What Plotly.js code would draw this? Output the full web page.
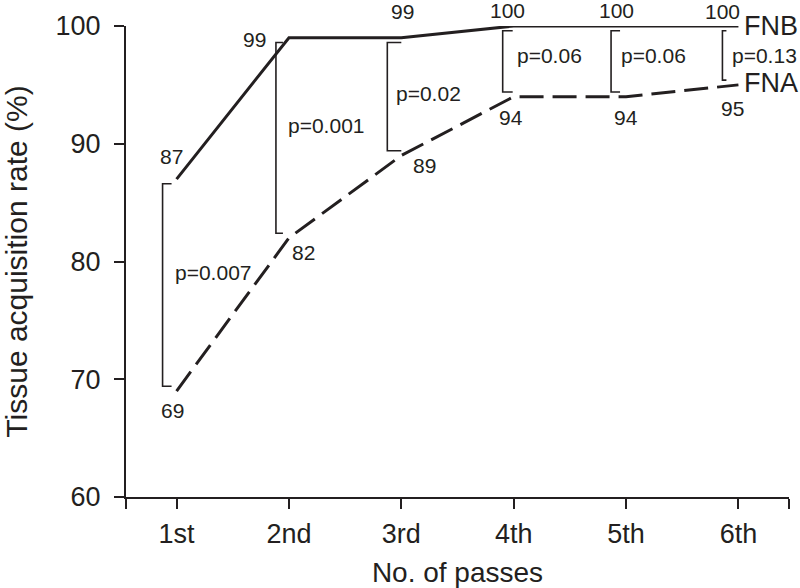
<!DOCTYPE html>
<html>
<head>
<meta charset="utf-8">
<script src="https://cdn.plot.ly/plotly-3.0.1.min.js"></script>
<style>html,body{margin:0;padding:0;background:#fff;}#chart{width:800px;height:588px;}</style>
</head>
<body>
<div id="chart"></div>
<script>
// ---- data ----
const passes = ['1st', '2nd', '3rd', '4th', '5th', '6th'];
const fnb = [87, 99, 99, 100, 100, 100];
const fna = [69, 82, 89, 94, 94, 95];
const pValues = ['p=0.007', 'p=0.001', 'p=0.02', 'p=0.06', 'p=0.06', 'p=0.13'];
const yTicks = [60, 70, 80, 90, 100];

// ---- styling / label placement (pixels) ----
const ink = '#231f20';
const font = 'Liberation Sans, Arial, Helvetica, sans-serif';
const fnbLabelShift = [[-5, 23], [-34, -2], [1, 26], [-6, 16], [-10, 16], [-16, 15]];
const fnaLabelShift = [[-4, -19], [15, -15], [23, -10], [-3, -21], [0, -21], [-6, -24]];
const pLabelShift = [[-4, 13], [-3, 12], [-7, 3], [1, 6], [-7, 6], [-8, 0]];
const bracketOffsetPx = [14, 13, 14, 11, 15, 16];
const bracketTickPx = [9, 7, 14, 10, 9, 4];

const xs = passes.map((_, i) => i + 1);
const xRange = [0.55, 6.45];
const pxPerX = (800 - 126 - 11) / (xRange[1] - xRange[0]);

const traces = [
  {x: xs, y: fnb, type: 'scatter', mode: 'lines', name: 'FNB',
   line: {color: ink, width: 3}, cliponaxis: false, hoverinfo: 'skip'},
  {x: xs, y: fna, type: 'scatter', mode: 'lines', name: 'FNA',
   line: {color: ink, width: 3, dash: '24px,9px'}, cliponaxis: false, hoverinfo: 'skip'}
];

const shapes = xs.map((x, i) => {
  const bx = x - bracketOffsetPx[i] / pxPerX;
  const tx = bx + bracketTickPx[i] / pxPerX;
  const top = fnb[i] - 0.4;
  const bot = fna[i] + 0.4;
  return {type: 'path', xref: 'x', yref: 'y',
    path: `M ${tx},${top} L ${bx},${top} L ${bx},${bot} L ${tx},${bot}`,
    line: {color: ink, width: 1.6}};
});

const annotations = [];
xs.forEach((x, i) => {
  annotations.push({x: x, y: fnb[i], xref: 'x', yref: 'y', text: String(fnb[i]), showarrow: false,
    xshift: fnbLabelShift[i][0], yshift: fnbLabelShift[i][1], font: {family: font, size: 21, color: ink}});
  annotations.push({x: x, y: fna[i], xref: 'x', yref: 'y', text: String(fna[i]), showarrow: false,
    xshift: fnaLabelShift[i][0], yshift: fnaLabelShift[i][1], font: {family: font, size: 21, color: ink}});
  annotations.push({x: x, y: (fnb[i] + fna[i]) / 2, xref: 'x', yref: 'y', text: pValues[i], showarrow: false,
    xanchor: 'left', xshift: pLabelShift[i][0], yshift: pLabelShift[i][1], font: {family: font, size: 21, color: ink}});
});
annotations.push({x: xs[5], y: fnb[5], xref: 'x', yref: 'y', text: 'FNB', showarrow: false,
  xanchor: 'left', xshift: 4, yshift: 0, font: {family: font, size: 27, color: ink}});
annotations.push({x: xs[5], y: fna[5], xref: 'x', yref: 'y', text: 'FNA', showarrow: false,
  xanchor: 'left', xshift: 4, yshift: 2, font: {family: font, size: 27, color: ink}});

const layout = {
  width: 800, height: 588,
  margin: {l: 126, r: 11, t: 26, b: 91, pad: 0},
  paper_bgcolor: '#ffffff', plot_bgcolor: '#ffffff',
  showlegend: false,
  font: {family: font, color: ink},
  xaxis: {
    range: xRange, showgrid: false, zeroline: false,
    showline: true, linecolor: ink, linewidth: 2,
    ticks: 'outside', ticklen: 10, tickwidth: 2, tickcolor: ink,
    tickvals: [xRange[0]].concat(xs, [xRange[1]]),
    ticktext: [''].concat(passes, ['']),
    tickfont: {family: font, size: 27, color: ink},
    ticklabelstandoff: 2,
    title: {text: 'No. of passes', font: {family: font, size: 28, color: ink}, standoff: 16},
    automargin: false,
    fixedrange: true
  },
  yaxis: {
    range: [60, 100], showgrid: false, zeroline: false,
    showline: true, linecolor: ink, linewidth: 2,
    ticks: 'outside', ticklen: 10, tickwidth: 2, tickcolor: ink,
    tickvals: yTicks,
    tickfont: {family: font, size: 27, color: ink},
    ticklabelstandoff: 8,
    title: {text: 'Tissue acquisition rate (%)', font: {family: font, size: 30, color: ink}, standoff: 27},
    automargin: false,
    fixedrange: true
  },
  shapes: shapes,
  annotations: annotations
};

Plotly.newPlot('chart', traces, layout, {displayModeBar: false, staticPlot: true});
</script>
</body>
</html>
